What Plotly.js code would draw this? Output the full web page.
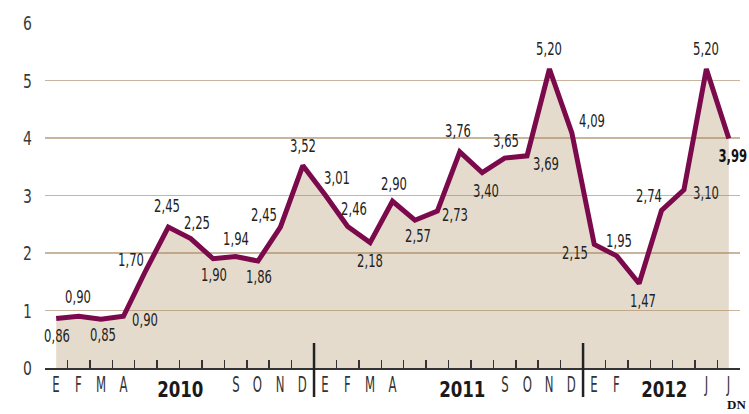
<!DOCTYPE html>
<html>
<head>
<meta charset="utf-8">
<script src="https://cdn.plot.ly/plotly-3.0.1.min.js"></script>
<style>
html,body{margin:0;padding:0;background:#fff;}
#chart{width:749px;height:414px;}
</style>
</head>
<body>
<div id="chart"></div>
<script>
// Data: monthly values Jan 2010 – Jul 2012
const months = ['E','F','M','A','M','J','J','A','S','O','N','D',
                'E','F','M','A','M','J','J','A','S','O','N','D',
                'E','F','M','A','M','J','J'];
const values = [0.86,0.90,0.85,0.90,1.70,2.45,2.25,1.90,1.94,1.86,2.45,3.52,
                3.01,2.46,2.18,2.90,2.57,2.73,3.76,3.40,3.65,3.69,5.20,4.09,
                2.15,1.95,1.47,2.74,3.10,5.20,3.99];
// month letters hidden where the year label sits
const showMonth = [1,1,1,1,0,0,0,0,1,1,1,1,
                   1,1,1,1,0,0,0,0,1,1,1,1,
                   1,1,0,0,0,1,1];
const years = ['2010','2011','2012'];
const yearPos = [5.55,18.1,27.15];
const yTicks = [0,1,2,3,4,5,6];

// label offsets (pixels) relative to each point
const labDx = [1,-1,2,22,-15,-1,6,1,0,1,-16,0,
               12,6,0,1,3,18,-2,4,1,19,0,20,
               -19,2,4,-13,22,0,4];
const labDy = [17,-19,16,4,-10,-21,-16,16,-17,16,-12,-20,
               -17,-18,18,-17,16,4,-21,18,-17,8,-20,-12,
               9,-15,18,-14,3,-20,17];

const idx = values.map((v,i)=>i);
const fmt = v => v.toFixed(2).replace('.', ',');
const cond = '"DejaVu Sans Condensed", "DejaVu Sans", sans-serif';

const annotations = [];
const squeeze = []; // [scaleX, origin] per annotation
values.forEach((v,i)=>{
  const last = i === values.length-1;
  annotations.push({
    x:i, y:v, xref:'x', yref:'y', text: last ? '<b>'+fmt(v)+'</b>' : fmt(v),
    showarrow:false, xanchor:'center', yanchor:'middle',
    xshift:labDx[i], yshift:-labDy[i],
    font:{family:cond, size:17, color: last ? '#111' : '#222'}
  });
  squeeze.push([0.76,'center']);
});
months.forEach((m,i)=>{
  if(!showMonth[i]) return;
  annotations.push({
    x:i, y:0, xref:'x', yref:'paper', text:m, showarrow:false,
    xanchor:'center', yanchor:'middle', yshift:-17,
    font:{family:cond, size:21, color:'#333'}
  });
  squeeze.push([0.62,'center']);
});
years.forEach((y,k)=>{
  annotations.push({
    x:yearPos[k], y:0, xref:'x', yref:'paper', text:'<b>'+y+'</b>', showarrow:false,
    xanchor:'center', yanchor:'middle', yshift:-22,
    font:{family:cond, size:21, color:'#1a1a1a'}
  });
  squeeze.push([0.88,'center']);
});
yTicks.forEach(t=>{
  annotations.push({
    x:0, y:t, xref:'paper', yref:'y', text:String(t), showarrow:false,
    xanchor:'right', yanchor:'middle', xshift:-11,
    font:{family:cond, size:19, color:'#3a3a3a'}
  });
  squeeze.push([0.82,'right center']);
});
annotations.push({
  x:(725-45)/695, y:-(404-368)/345, xref:'paper', yref:'paper', text:'<b>DN</b>', showarrow:false,
  xanchor:'left', yanchor:'middle',
  font:{family:'"Liberation Serif", serif', size:13, color:'#111'}
});
squeeze.push([1,'center']);

// tick marks between months (year separators are drawn as shapes)
const tickMid = [];
for(let i=0;i<values.length;i++){ if(i!==11 && i!==23) tickMid.push(i+0.5); }

const shapes = [11.5,23.5].map(x=>({
  type:'line', xref:'x', yref:'paper', x0:x, x1:x,
  y0:(368-343)/345, y1:-(397-368)/345,
  line:{color:'#222', width:2.5}
}));

const trace = {
  x: idx, y: values, type:'scatter', mode:'lines',
  line:{color:'#7a0a4b', width:5},
  fill:'tozeroy', fillcolor:'rgba(170,135,90,0.3)',
  hoverinfo:'skip'
};

const layout = {
  width:749, height:414,
  margin:{l:45, r:9, t:23, b:46},
  paper_bgcolor:'#fff', plot_bgcolor:'#fff',
  showlegend:false,
  xaxis:{
    range:[-0.5,30.5], tickmode:'array', tickvals:tickMid,
    ticktext: tickMid.map(()=>''), ticks:'inside', ticklen:8, tickwidth:1.5, tickcolor:'#333',
    showline:true, linecolor:'#333', linewidth:2, showgrid:false, zeroline:false,
    fixedrange:true
  },
  yaxis:{
    range:[0,6], tickmode:'array', tickvals:yTicks, showticklabels:false,
    showgrid:true, gridcolor:'#c9b59d', gridwidth:1.5, zeroline:false, showline:false,
    ticks:'', fixedrange:true
  },
  annotations: annotations,
  shapes: shapes
};

Plotly.newPlot('chart',[trace],layout,{displayModeBar:false, staticPlot:true}).then(gd=>{
  squeeze.forEach((s,k)=>{
    if(s[0]===1) return;
    const t = gd.querySelector('.annotation[data-index="'+k+'"] text.annotation-text');
    if(!t) return;
    t.style.transformBox = 'fill-box';
    t.style.transformOrigin = s[1];
    t.style.transform = 'scaleX('+s[0]+')';
  });
});
</script>
</body>
</html>
